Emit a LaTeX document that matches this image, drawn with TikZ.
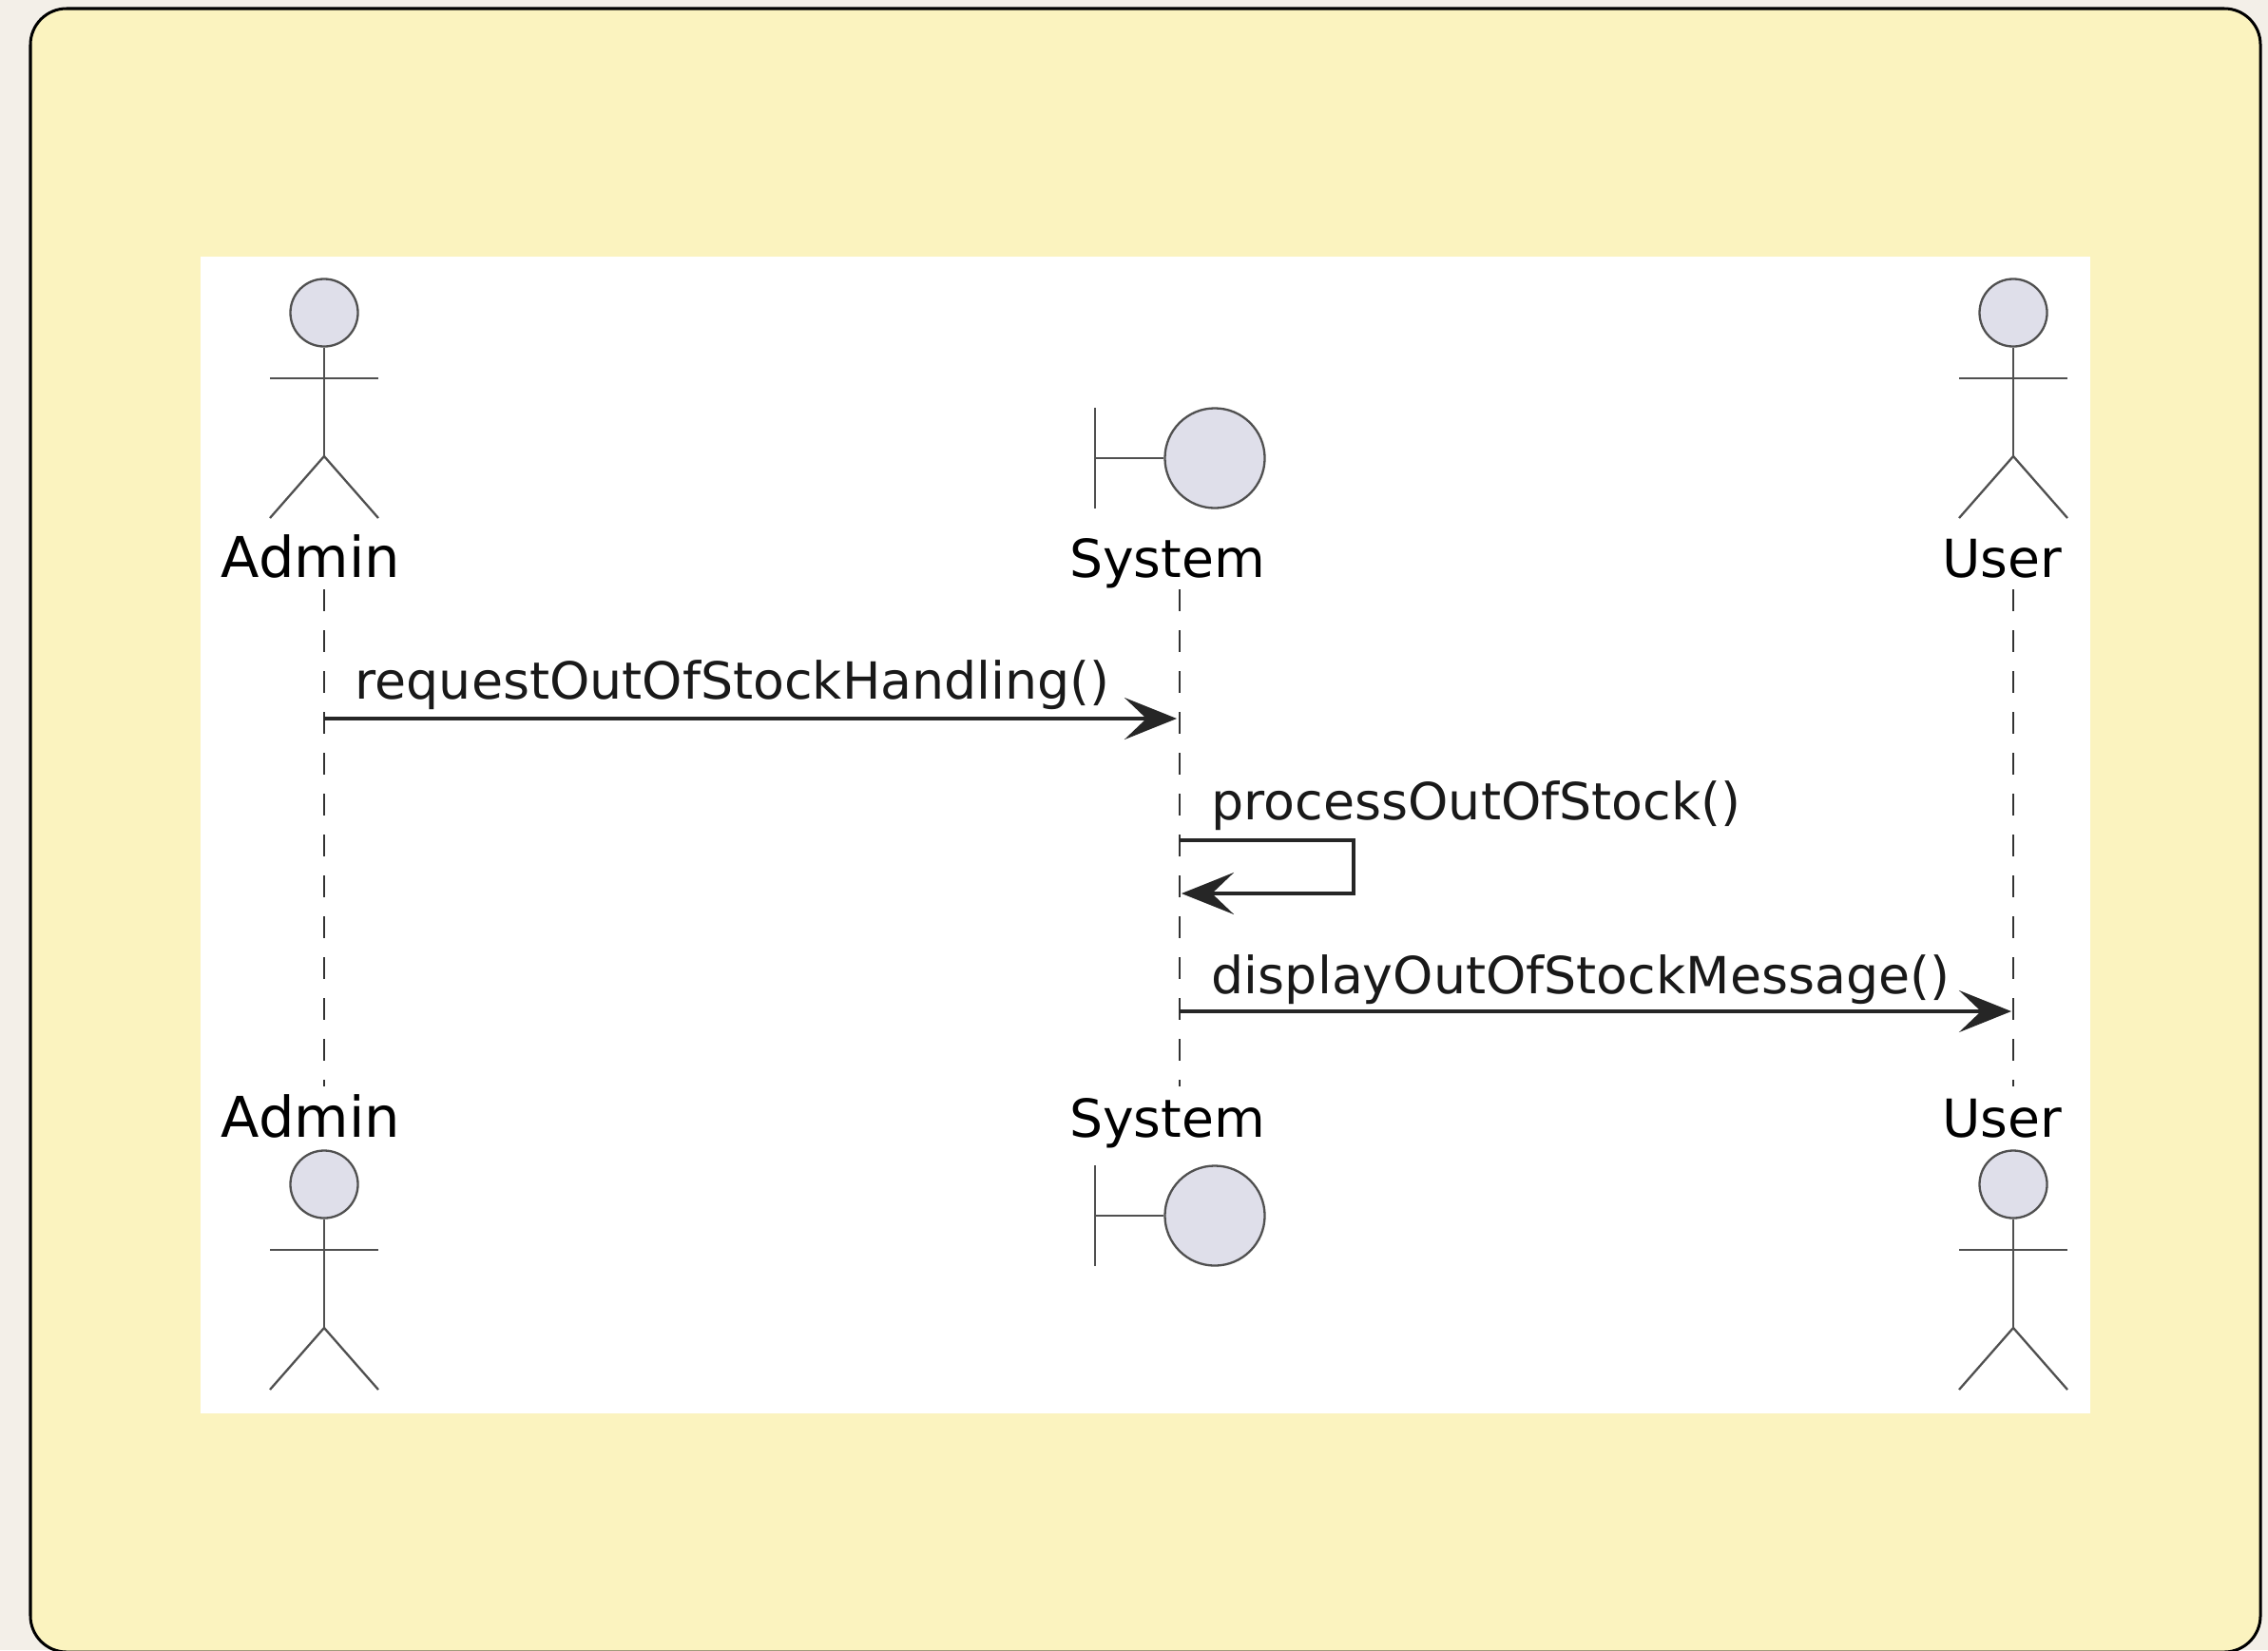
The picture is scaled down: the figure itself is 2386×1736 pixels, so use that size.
\documentclass[tikz,border=0pt]{standalone}
\usepackage{fontspec}
\setmainfont{DejaVu Sans}
\usetikzlibrary{arrows.meta}
\definecolor{pagecol}{HTML}{F3EFE8}
\definecolor{notecol}{HTML}{FBF3BF}
\definecolor{headcol}{HTML}{DFDFEA}
\definecolor{figcol}{HTML}{505050}

\begin{document}
\begin{tikzpicture}[x=0.01cm, y=-0.01cm,
    figline/.style={draw=figcol, line width=0.023cm},
    head/.style={circle, draw=figcol, fill=headcol, line width=0.023cm, inner sep=0pt, minimum size=0.71cm},
    ball/.style={circle, draw=figcol, fill=headcol, line width=0.023cm, inner sep=0pt, minimum size=1.05cm},
    partname/.style={anchor=base, font=\fontsize{15.7}{20}\selectfont, text=black, inner sep=0pt},
    widename/.style={partname, font=\fontsize{16.8}{20}\selectfont},
    msgtext/.style={anchor=base west, font=\fontsize{15.3}{20}\selectfont, text=black!90, inner sep=0pt},
    lifeline/.style={draw=black!80, line width=0.018cm, dash pattern=on 0.23cm off 0.20cm},
    msg/.style={draw=black!85, line width=0.036cm, -{Stealth[length=0.55cm, width=0.44cm, inset=0.23cm]}}]
    \useasboundingbox (0, 0) rectangle (2386, 1736);
    \fill[pagecol] (0, 0) rectangle (2386, 1736);
    \draw[fill=notecol, draw=black, line width=0.03cm, rounded corners=0.38cm] (32, 9) rectangle (2378, 1738);
    \fill[white] (211, 270) rectangle (2199, 1487);

    % stick figures
    \foreach \fig/\px/\py in {admintop/341/329, usertop/2118/329, adminbot/341/1246, userbot/2118/1246} {
        \node[head] (\fig) at (\px, \py) {};
        \coordinate (\fig armL) at (\px-57, \py+69);
        \coordinate (\fig armR) at (\px+57, \py+69);
        \coordinate (\fig hip) at (\px, \py+151);
        \coordinate (\fig footL) at (\px-57, \py+216);
        \coordinate (\fig footR) at (\px+57, \py+216);
        \draw[figline] (\fig) -- (\fig hip);
        \draw[figline] (\fig armL) -- (\fig armR);
        \draw[figline] (\fig footL) -- (\fig hip) -- (\fig footR);
    }

    % boundary symbols
    \foreach \fig/\py in {systop/482, sysbot/1279} {
        \node[ball] (\fig) at (1278, \py) {};
        \coordinate (\fig barT) at (1152, \py-53);
        \coordinate (\fig barM) at (1152, \py);
        \coordinate (\fig barB) at (1152, \py+53);
        \draw[figline] (\fig barT) -- (\fig barB);
        \draw[figline] (\fig barM) -- (\fig);
    }

    \node[widename] (adminT) at (327, 607) {Admin};
    \node[partname] (systemT) at (1228, 607) {System};
    \node[partname] (userT) at (2106, 607) {User};
    \node[widename] (adminB) at (327, 1196) {Admin};
    \node[partname] (systemB) at (1228, 1196) {System};
    \node[partname] (userB) at (2106, 1196) {User};

    % lifelines
    \coordinate (adminS) at (341, 620);
    \coordinate (adminE) at (341, 1143);
    \coordinate (systemS) at (1241, 620);
    \coordinate (systemE) at (1241, 1143);
    \coordinate (userS) at (2118, 620);
    \coordinate (userE) at (2118, 1143);
    \draw[lifeline] (adminS) -- (adminE);
    \draw[lifeline] (systemS) -- (systemE);
    \draw[lifeline] (userS) -- (userE);

    % messages
    \coordinate (m1a) at (341, 756);
    \coordinate (m1b) at (1238, 756);
    \coordinate (m2a) at (1241, 884);
    \coordinate (m2b) at (1424, 884);
    \coordinate (m2c) at (1424, 940);
    \coordinate (m2d) at (1243, 940);
    \coordinate (m3a) at (1241, 1064);
    \coordinate (m3b) at (2116, 1064);
    \draw[msg] (m1a) -- (m1b);
    \draw[msg] (m2a) -- (m2b) -- (m2c) -- (m2d);
    \draw[msg] (m3a) -- (m3b);
    \node[msgtext] (m1text) at (373, 735) {requestOutOfStockHandling()};
    \node[msgtext] (m2text) at (1274, 862) {processOutOfStock()};
    \node[msgtext] (m3text) at (1274, 1045) {displayOutOfStockMessage()};
\end{tikzpicture}
\end{document}
